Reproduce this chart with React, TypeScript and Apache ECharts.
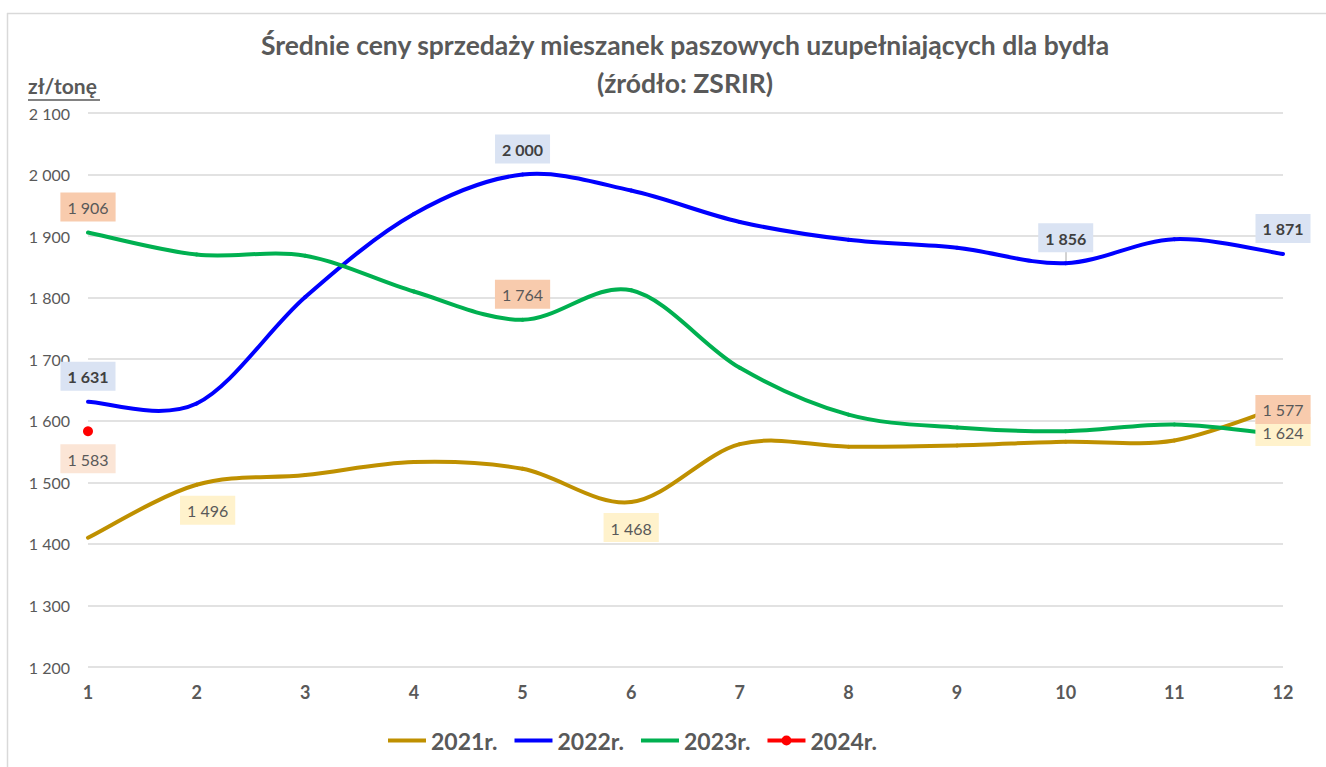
import React, { useEffect, useRef } from "react";
import * as echarts from "echarts";

const months = ["1", "2", "3", "4", "5", "6", "7", "8", "9", "10", "11", "12"];
const seriesNames = ["2021r.", "2022r.", "2023r.", "2024r."];
const y2021 = [1410, 1496, 1512, 1533, 1522, 1468, 1562, 1558, 1560, 1566, 1568, 1624];
const y2022 = [1631, 1628, 1801, 1936, 2000, 1974, 1923, 1894, 1881, 1856, 1895, 1871];
const y2023 = [1906, 1870, 1868, 1810, 1764, 1812, 1686, 1610, 1589, 1583, 1594, 1577];
const y2024 = [1583, null, null, null, null, null, null, null, null, null, null, null];
const labeled2021 = [1, 5, 11];
const labeled2022 = [0, 4, 9, 11];
const labeled2023 = [0, 4, 11];
const labeled2024 = [0];
const yTicks = { min: 1200, max: 2100, step: 100 };

const FONT = "Lato, 'Noto Sans', sans-serif";
const GRAY = "#595959";
const COLORS = ["#BF9000", "#0000FF", "#00B050", "#FF0000"];

const fmt = (v: number) => String(v).replace(/\B(?=(\d{3})+(?!\d))/g, " ");

const lineIcon = "path://M0,0 M0,3 L38,3 L38,7 L0,7 Z M38,10";
const dotIcon =
  "path://M0,0 M0,3 L38,3 L38,7 L0,7 Z M14,5 A5,5 0 1,1 24,5 A5,5 0 1,1 14,5 Z M38,10";

function withLabels(values: (number | null)[], idxs: number[], label: any, extra: Record<number, any> = {}) {
  return values.map((v, i) =>
    idxs.includes(i) && v != null
      ? { value: v, label: { show: true, ...label, ...(extra[i] || {}) } }
      : v
  );
}

// Excel-like smoothed curve (Catmull-Rom style Bezier segments) drawn through the axes' scales
function curveSeries(key: string, values: number[], color: string) {
  const n = values.length;
  const cl = (k: number) => Math.max(0, Math.min(n - 1, k));
  return {
    type: "custom",
    name: "curve-" + key,
    silent: true,
    z: 1,
    encode: { x: 0, y: 1 },
    data: values.slice(0, -1).map((v, i) => [i, v]),
    renderItem: (params: any, api: any) => {
      const i = params.dataIndex;
      const p = (k: number) => api.coord([cl(k), values[cl(k)]]);
      const p0 = p(i - 1), p1 = p(i), p2 = p(i + 1), p3 = p(i + 2);
      return {
        type: "bezierCurve",
        shape: {
          x1: p1[0],
          y1: p1[1],
          x2: p2[0],
          y2: p2[1],
          cpx1: p1[0] + (p2[0] - p0[0]) / 6,
          cpy1: p1[1] + (p2[1] - p0[1]) / 6,
          cpx2: p2[0] - (p3[0] - p1[0]) / 6,
          cpy2: p2[1] - (p3[1] - p1[1]) / 6,
        },
        style: { stroke: color, lineWidth: 4, fill: "none", lineCap: "round" },
      };
    },
  };
}

const baseLabel = {
  fontFamily: FONT,
  fontSize: 16,
  color: GRAY,
  padding: [7, 7, 6, 7],
  formatter: (p: any) => fmt(p.value),
};

export default function App() {
  const ref = useRef<HTMLDivElement>(null);
  useEffect(() => {
    if (!ref.current) return;
    const chart = echarts.init(ref.current, undefined, { renderer: "svg" });
    const hiddenLine = { width: 4, opacity: 0 };
    const option: any = {
      animation: false,
      backgroundColor: "#ffffff",
      grid: { left: 88, right: 43, top: 113, bottom: 100, containLabel: false },
      legend: {
        left: 383,
        top: 724,
        itemWidth: 38,
        itemHeight: 10,
        itemGap: 17,
        textStyle: { fontFamily: FONT, fontSize: 23, fontWeight: "bold", color: GRAY },
        data: seriesNames.map((name, i) => ({
          name,
          icon: i === 3 ? dotIcon : lineIcon,
          itemStyle: { color: COLORS[i] },
        })),
      },
      xAxis: {
        type: "category",
        data: months,
        boundaryGap: false,
        axisLine: { show: false },
        axisTick: { show: false },
        axisLabel: { fontFamily: FONT, fontSize: 18, fontWeight: "bold", color: GRAY, margin: 16 },
        splitLine: { show: false },
      },
      yAxis: {
        type: "value",
        min: yTicks.min,
        max: yTicks.max,
        interval: yTicks.step,
        axisLine: { show: false },
        axisTick: { show: false },
        axisLabel: { fontFamily: FONT, fontSize: 16, color: GRAY, margin: 18, formatter: (v: number) => fmt(v) },
        splitLine: { lineStyle: { color: "#D9D9D9", width: 1.5 } },
      },
      graphic: [
        { type: "line", shape: { x1: 7.5, y1: 13, x2: 7.5, y2: 767 }, style: { stroke: "#D9D9D9", lineWidth: 1.5 } },
        { type: "line", shape: { x1: 7, y1: 13.5, x2: 1326, y2: 13.5 }, style: { stroke: "#D9D9D9", lineWidth: 1.5 } },
        {
          type: "text",
          x: 685,
          y: 26,
          style: {
            text: "Średnie ceny sprzedaży mieszanek paszowych uzupełniających dla bydła\n(źródło: ZSRIR)",
            fontFamily: FONT,
            fontSize: 26.5,
            fontWeight: "bold",
            fill: GRAY,
            textAlign: "center",
            textVerticalAlign: "top",
            lineHeight: 38,
          },
        },
        {
          type: "text",
          x: 28,
          y: 75,
          style: { text: "zł/tonę", fontFamily: FONT, fontSize: 21, fontWeight: "bold", fill: GRAY, textVerticalAlign: "top" },
        },
        { type: "line", shape: { x1: 28, y1: 100, x2: 100, y2: 100 }, style: { stroke: GRAY, lineWidth: 1.5 } },
        // leader line of the "1 856" label
        { type: "line", shape: { x1: 1066, y1: 252, x2: 1066, y2: 261 }, style: { stroke: "#A6A6A6", lineWidth: 1 } },
      ],
      series: [
        curveSeries("2021", y2021, COLORS[0]),
        curveSeries("2022", y2022, COLORS[1]),
        curveSeries("2023", y2023, COLORS[2]),
        {
          name: seriesNames[0],
          type: "line",
          symbol: "circle",
          symbolSize: 2,
          color: COLORS[0],
          lineStyle: hiddenLine,
          z: 3,
          data: withLabels(
            y2021,
            labeled2021,
            { ...baseLabel, position: "bottom", distance: 10, backgroundColor: "#FFF2CC" },
            { 1: { offset: [11, 0] } }
          ),
        },
        {
          name: seriesNames[1],
          type: "line",
          symbol: "circle",
          symbolSize: 2,
          color: COLORS[1],
          lineStyle: hiddenLine,
          z: 3,
          data: withLabels(y2022, labeled2022, {
            ...baseLabel,
            position: "top",
            distance: 10,
            fontWeight: "bold",
            color: "#404040",
            backgroundColor: "#DAE3F3",
          }),
        },
        {
          name: seriesNames[2],
          type: "line",
          symbol: "circle",
          symbolSize: 2,
          color: COLORS[2],
          lineStyle: hiddenLine,
          z: 3,
          data: withLabels(y2023, labeled2023, {
            ...baseLabel,
            position: "top",
            distance: 10,
            backgroundColor: "#F8CBAD",
          }),
        },
        {
          name: seriesNames[3],
          type: "line",
          symbol: "circle",
          symbolSize: 10,
          color: COLORS[3],
          lineStyle: { width: 4 },
          z: 4,
          data: withLabels(y2024, labeled2024, {
            ...baseLabel,
            position: "bottom",
            distance: 8,
            backgroundColor: "#FBE5D6",
          }),
        },
      ],
    };
    chart.setOption(option);
    return () => chart.dispose();
  }, []);
  return <div ref={ref} style={{ position: "absolute", left: 0, top: 0, width: 1326, height: 767 }} />;
}
